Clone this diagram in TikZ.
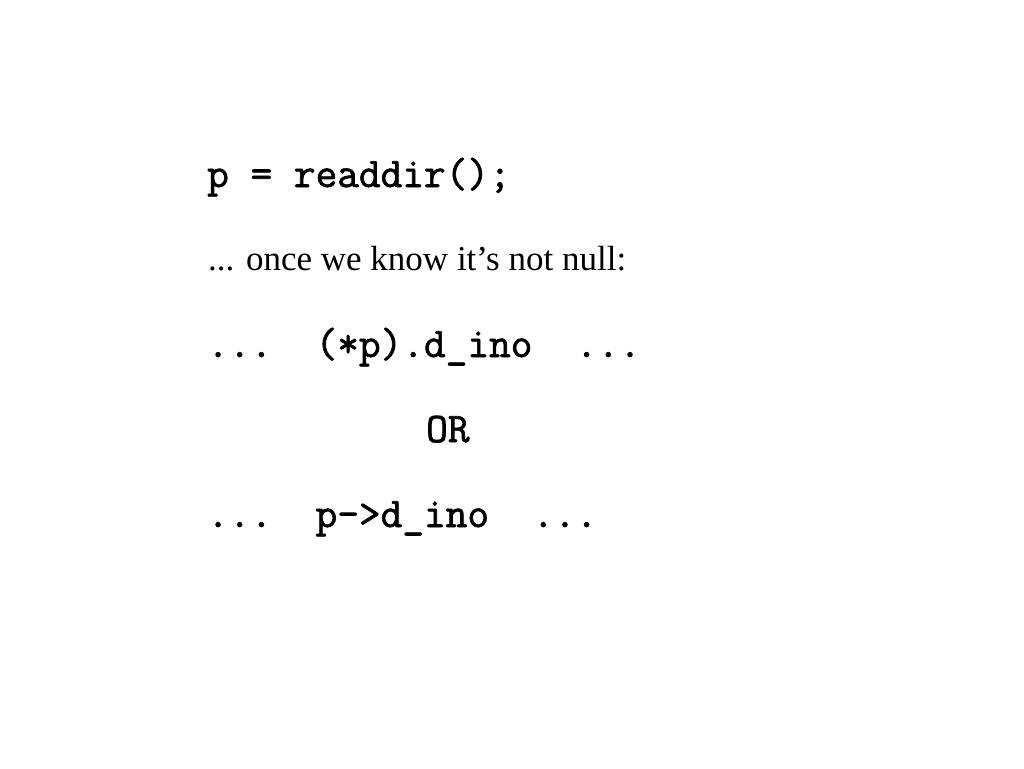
\documentclass[tikz,border=0pt]{standalone}
\usepackage{fontspec}
\setmainfont{Liberation Serif}
\setmonofont{Latin Modern Mono}[FakeBold=1.6]
\begin{document}
\begin{tikzpicture}[x=1pt,y=-1pt,
  code/.style={anchor=base west,inner sep=0pt,font=\ttfamily\bfseries\fontsize{42.1}{44}\selectfont},
  prose/.style={anchor=base west,inner sep=0pt,font=\fontsize{35}{38}\selectfont}]
\useasboundingbox (0,0) rectangle (1024,768);
\node[code] (l1) at (207,187) {p = readdir();};
\node[prose] (l2) at (208,270) {... once we know it’s not null:};
\node[code] (l3) at (207,357) {...\ \ (*p).d\_ino\ \ ...};
\node[code] (or) at (426,442) {OR};
\node[code] (l5) at (207,527) {...\ \ p->d\_ino\ \ ...};
\end{tikzpicture}
\end{document}
